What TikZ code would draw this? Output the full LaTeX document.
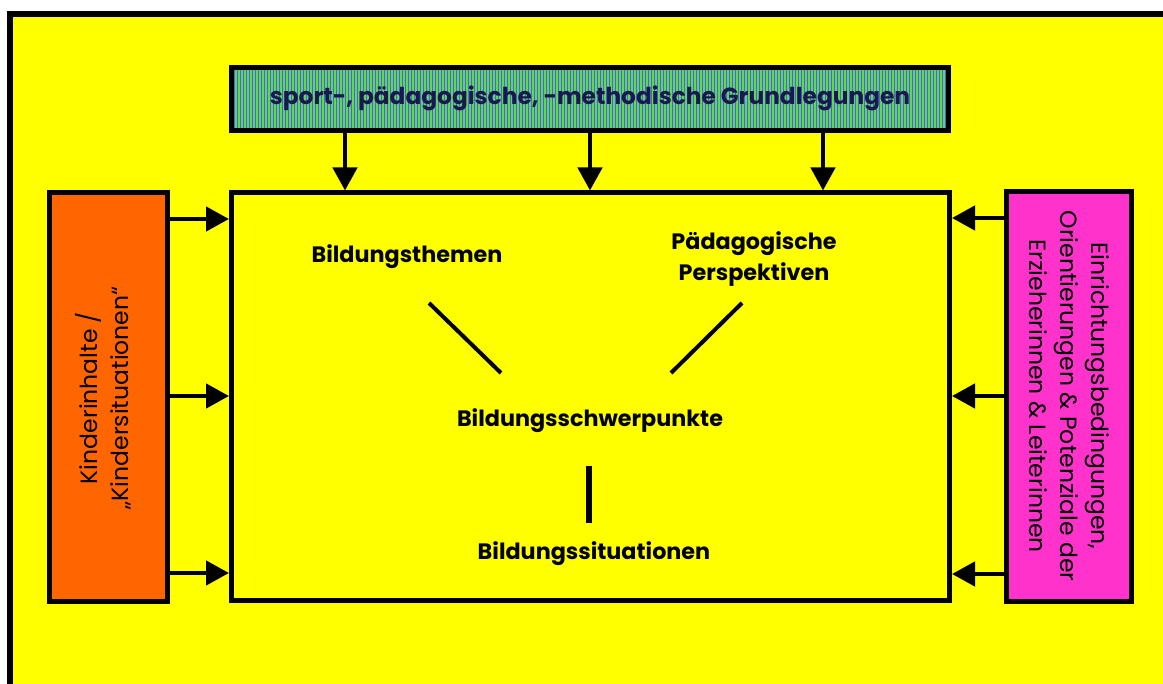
\documentclass[tikz,border=0pt]{standalone}
\usepackage{fontspec}
\setmainfont{Poppins}
\usetikzlibrary{arrows.meta,calc}
\definecolor{bgyellow}{RGB}{255,255,0}
\definecolor{korange}{RGB}{255,102,0}
\definecolor{kpink}{RGB}{255,51,204}
\definecolor{sgreen}{RGB}{100,215,80}
\definecolor{sblue}{RGB}{70,100,235}
\definecolor{navy}{RGB}{25,25,80}
\tikzset{
  box/.style={draw=black, line width=5pt, inner sep=0pt},
  arr/.style={line width=4.5pt, -{Triangle[length=23pt,width=24pt]}},
  conn/.style={line width=4pt},
  bold/.style={font=\fontsize{22.3}{31}\selectfont\bfseries, align=center},
  side/.style={font=\fontsize{23.5}{31}\selectfont, align=center},
}
\begin{document}
\begin{tikzpicture}[x=1pt,y=-1pt]
\useasboundingbox (0,0) rectangle (1163,684);
\fill[white] (0,0) rectangle (1163,684);
\filldraw[fill=bgyellow, draw=black, line width=6pt] (9.7,13.7) rectangle (1200,720);
% boxes
\node (top) [box, minimum width=717pt, minimum height=63pt, fill=sgreen,
  path picture={\foreach \i in {0,3,...,720}{\draw[sblue, line width=1.4pt] ($(path picture bounding box.south west)+(\i pt,-5pt)$) -- ++(0pt,80pt);}}]
  at (590,99) {};
\node (toptext) at (590,98) [bold, text=navy, font=\fontsize{23.3}{28}\selectfont\bfseries] {sport-, pädagogische, -methodische Grundlegungen};
\node (main) [box, minimum width=718pt, minimum height=407.5pt, fill=bgyellow] at (590.5,396.75) {};
\node (kl) [box, minimum width=118.5pt, minimum height=409pt, fill=korange] at (108.25,397) {};
\node (kr) [box, minimum width=125pt, minimum height=409.5pt, fill=kpink] at (1069,396.75) {};
\node (kltext) [side, rotate=90] at (103,398) {Kinderinhalte /\\„Kindersituationen“};
\node (krtext) [side, rotate=-90] at (1069,396) {Einrichtungsbedingungen,\\Orientierungen \& Potenziale der\\Erzieherinnen \& Leiterinnen};
% inner texts
\node (themen) [bold] at (407,257) {Bildungsthemen};
\node (persp) [bold] at (754,259) {Pädagogische\\Perspektiven};
\node (schwer) [bold] at (590,421) {Bildungsschwerpunkte};
\node (situ) [bold] at (594,554) {Bildungssituationen};
% connector lines
\coordinate (a1) at (429,303); \coordinate (a2) at (501,373);
\coordinate (b1) at (742,303); \coordinate (b2) at (671,373);
\coordinate (c1) at (589,466); \coordinate (c2) at (589,523);
\draw[conn] (a1) -- (a2);
\draw[conn] (b1) -- (b2);
\draw[line width=5.5pt] (c1) -- (c2);
% arrows
\foreach \x in {345,590,823}{
  \coordinate (tx) at (\x,0);
  \draw[arr] (top.south -| tx) -- (main.north -| tx);
}
\foreach \y in {219,396,573}{
  \coordinate (ly) at (0,\y);
  \draw[arr] (kl.east |- ly) -- (main.west |- ly);
}
\foreach \y in {218,396,574}{
  \coordinate (ry) at (0,\y);
  \draw[arr] (kr.west |- ry) -- (main.east |- ry);
}
\end{tikzpicture}
\end{document}
